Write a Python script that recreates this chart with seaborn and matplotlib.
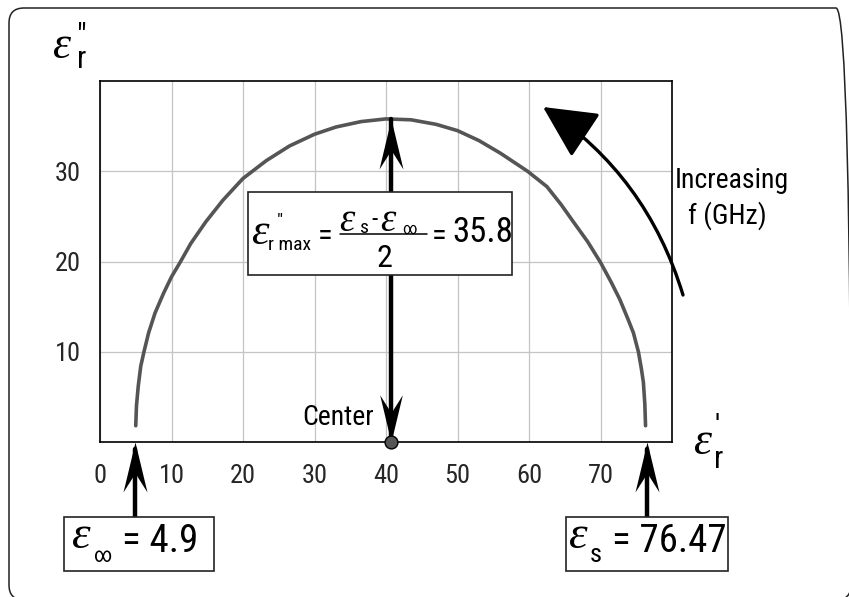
import matplotlib
matplotlib.use("Agg")
import matplotlib.pyplot as plt
import seaborn as sns
import pandas as pd
from matplotlib import font_manager
from matplotlib.patches import FancyBboxPatch, FancyArrowPatch, Rectangle
from matplotlib.lines import Line2D
from matplotlib.path import Path
from matplotlib.transforms import IdentityTransform

# Cole-Cole semicircle, values
eps_real = [5.0, 5.1, 5.35, 5.7, 6.15, 6.8, 7.7, 8.9, 10.0, 11.2, 12.7, 14.8, 17.2, 20.0,
            23.3, 26.5, 30.0, 33.0, 36.5, 40.0, 43.5, 47.0, 50.0, 53.0, 56.0, 59.8, 62.5,
            64.5, 66.2, 68.2, 70.0, 71.5, 72.7, 73.8, 74.6, 75.3, 75.7, 76.0, 76.2, 76.3]
eps_imag = [1.8, 4.0, 6.2, 8.4, 10.0, 12.1, 14.3, 16.5, 18.3, 19.9, 22.0, 24.4, 26.8, 29.2,
            31.2, 32.8, 34.1, 34.9, 35.5, 35.8, 35.7, 35.2, 34.5, 33.4, 32.0, 30.0, 28.3,
            26.3, 24.4, 22.2, 19.9, 17.7, 15.8, 13.7, 12.1, 10.0, 8.2, 6.6, 4.2, 1.8]
eps_inf = 4.9
eps_s = 76.47
eps_max = 35.8
x_ticks = [0, 10, 20, 30, 40, 50, 60, 70]
y_ticks = [10, 20, 30]

center = (eps_s + eps_inf) / 2

# fonts: condensed sans if there is one
names = {f.name for f in font_manager.fontManager.ttflist}
SANS = "Liberation Sans"
for cand in ["Liberation Sans Narrow", "Roboto Condensed", "Open Sans Condensed"]:
    if cand in names:
        SANS = cand
        break
SERIF = "Liberation Serif"

sns.set_theme(style="white")
plt.rcParams["font.family"] = [SANS, "DejaVu Sans"]

W, H = 849, 597
fig = plt.figure(figsize=(W / 100, H / 100), dpi=100)
ax = fig.add_axes([100 / W, 1 - 442 / H, 572 / W, 361 / H])

df = pd.DataFrame({"re": eps_real, "im": eps_imag})
sns.lineplot(data=df, x="re", y="im", sort=False, color="#555555", lw=2.6, ax=ax, zorder=3)
sns.scatterplot(x=[center], y=[0], s=85, color="#555555", edgecolor="black", linewidth=1,
                zorder=6, clip_on=False, ax=ax)

ax.set_xlim(0, 80)
ax.set_ylim(0, 40)
ax.set_xticks(x_ticks)
ax.set_yticks(y_ticks)
ax.set_xlabel("")
ax.set_ylabel("")
ax.grid(True, color="#c4c4c4", lw=0.9)
ax.tick_params(axis="x", length=0, pad=16, labelsize=19)
ax.tick_params(axis="y", length=0, pad=14, labelsize=19)
for sp in ax.spines.values():
    sp.set_visible(True)
    sp.set_color("black")
    sp.set_linewidth(1.2)

# concave arrow head, tip at the origin of the marker
head_up = Path([(0, 0), (-0.24, -1), (0, -0.62), (0.24, -1), (0, 0)],
               [Path.MOVETO, Path.LINETO, Path.LINETO, Path.LINETO, Path.CLOSEPOLY])
head_dn = Path([(0, 0), (-0.24, 1), (0, 0.62), (0.24, 1), (0, 0)],
               [Path.MOVETO, Path.LINETO, Path.LINETO, Path.LINETO, Path.CLOSEPOLY])

# vertical arrow through the centre
ax.plot([center, center], [0, eps_max], color="black", lw=3.2, zorder=4)
ax.plot([center], [eps_max], marker=head_up, ms=72, color="black", mew=0, zorder=5)
ax.plot([center], [0], marker=head_dn, ms=68, color="black", mew=0, zorder=5)

# arrows up from the two boxes below the axis
xt = ax.get_xaxis_transform()
for xv in [eps_inf, eps_s]:
    ax.plot([xv, xv], [-0.21, -0.02], color="black", lw=3.2, transform=xt, clip_on=False)
    ax.plot([xv], [0], marker=head_up, ms=72, color="black", mew=0, transform=xt,
            clip_on=False)


def put(x, y, s, size, fam=None, it=False, ha="left", va="baseline", ls=1.2):
    fig.text(x / W, 1 - y / H, s, fontsize=size, family=fam or SANS,
             style="italic" if it else "normal", ha=ha, va=va, color="black",
             linespacing=ls, zorder=10)


def box(x0, y0, x1, y1):
    fig.add_artist(Rectangle((x0 / W, 1 - y1 / H), (x1 - x0) / W, (y1 - y0) / H,
                             transform=fig.transFigure, fc="white", ec="#222222",
                             lw=1.2, zorder=8))


# outer frame with rounded corners, in pixels
fig.add_artist(FancyBboxPatch((9, -3), 842, 592,
                              boxstyle="round,pad=0,rounding_size=15",
                              transform=IdentityTransform(), fc="none", ec="#222222",
                              lw=1.1, clip_on=False))

# axis symbols (mark and subscript stacked in one text)
put(52, 58, "\u03b5", 33, SERIF, True)
put(77, 68, '"\nr', 22, ls=0.75)
put(693, 454, "\u03b5", 33, SERIF, True)
put(714, 468, "'\nr", 22, ls=1.15)

# formula box
box(248, 192, 512, 275)
put(251, 244, "\u03b5", 32, SERIF, True)
put(268, 250, '  "\nr max', 14, ls=1.35)
put(318, 245, "=", 22)
put(339, 231, "\u03b5", 28, SERIF, True)
put(360, 233, "s", 14)
put(371, 227, "-", 18)
put(380, 231, "\u03b5", 28, SERIF, True)
put(402, 234, "\u221e", 12)
fig.add_artist(Line2D([340 / W, 427 / W], [1 - 234 / H, 1 - 234 / H],
                      transform=fig.transFigure, color="black", lw=1.1, zorder=10))
put(384, 267, "2", 23, ha="center")
put(432, 245, "=", 22)
put(452, 242, "35.8", 25)

# bottom boxes
box(64, 517, 214, 571)
put(72, 548, "\u03b5", 34, SERIF, True)
put(93, 562, "\u221e", 15)
put(122, 552, "= 4.9", 28)
box(566, 517, 728, 571)
put(569, 548, "\u03b5", 34, SERIF, True)
put(590, 562, "s", 19)
put(612, 552, "= 76.47", 28)

put(374, 425, "Center", 20, ha="right")
put(675, 188, "Increasing", 20)
put(688, 224, "f (GHz)", 20)

# curved arrow for increasing frequency
fig.add_artist(FancyArrowPatch((683 / W, 1 - 295 / H), (543 / W, 1 - 107 / H),
                               transform=fig.transFigure,
                               connectionstyle="arc3,rad=0.18",
                               arrowstyle="-|>,head_length=2.2,head_width=1.1",
                               mutation_scale=15, lw=2.4, color="black",
                               shrinkA=0, shrinkB=0, zorder=9))

fig.savefig("out.png", dpi=100)
